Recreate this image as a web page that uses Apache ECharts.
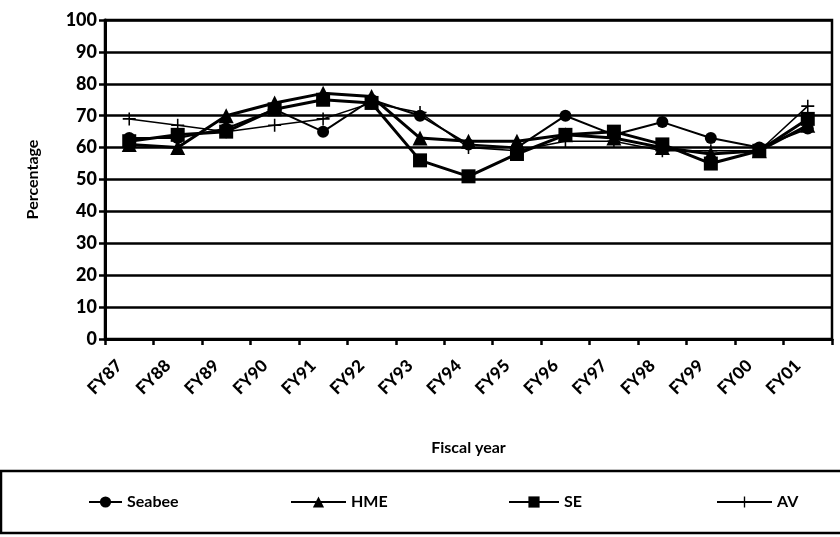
<!DOCTYPE html>
<html>
<head>
<meta charset="utf-8">
<script src="https://cdn.jsdelivr.net/npm/echarts@6/dist/echarts.min.js"></script>
<style>
html,body{margin:0;padding:0;background:#fff;}
#c{width:840px;height:537px;}
</style>
</head>
<body>
<div id="c"></div>
<script>
var categories = ['FY87','FY88','FY89','FY90','FY91','FY92','FY93','FY94','FY95','FY96','FY97','FY98','FY99','FY00','FY01'];
var seabee = [63, 63, 66, 72, 65, 75, 70, 61, 60, 70, 64, 68, 63, 60, 66];
var hme    = [61, 60, 70, 74, 77, 76, 63, 62, 62, 64, 63, 60, 58, 59, 67];
var se     = [62, 64, 65, 72, 75, 74, 56, 51, 58, 64, 65, 61, 55, 59, 69];
var av     = [69, 67, 65, 67, 69, 74, 71, 60, 59, 62, 62, 59, 59, 59, 73];

var FONT = 'Lato';
var plus = 'path://M4.4,0h1.2v10h-1.2z M0,4.4h10v1.2h-10z';

function legendFor(name, left, w) {
  return {
    data: [name], left: left, top: 494, itemWidth: w, itemHeight: 14, itemGap: 4, padding: 0,
    textStyle: {fontFamily: FONT, fontWeight: 'bold', fontSize: 16, color: '#000'},
    selectedMode: false
  };
}

var chart = echarts.init(document.getElementById('c'));
chart.setOption({
  animation: false,
  backgroundColor: '#fff',
  grid: {left: 105, right: 8, top: 20, bottom: 198, show: true, borderColor: '#000', borderWidth: 2.5},
  xAxis: {
    type: 'category', data: categories, boundaryGap: true,
    name: 'Fiscal year', nameLocation: 'middle', nameGap: 101,
    nameTextStyle: {fontFamily: FONT, fontWeight: 'bold', fontSize: 16, color: '#000'},
    axisLine: {lineStyle: {color: '#000', width: 3}},
    axisTick: {show: true, length: 6, lineStyle: {color: '#000', width: 2.5}},
    axisLabel: {rotate: 45, margin: 14, padding: [0, 14, 0, 0], fontFamily: FONT, fontWeight: 900, fontSize: 17, color: '#000'}
  },
  yAxis: {
    type: 'value', min: 0, max: 100, interval: 10,
    name: 'Percentage', nameLocation: 'middle', nameGap: 64, nameRotate: 90,
    nameTextStyle: {fontFamily: FONT, fontWeight: 'bold', fontSize: 16, color: '#000'},
    axisLine: {show: true, lineStyle: {color: '#000', width: 3}},
    axisTick: {show: true, length: 6, lineStyle: {color: '#000', width: 2.5}},
    axisLabel: {margin: 8, fontFamily: FONT, fontWeight: 900, fontSize: 18, color: '#000'},
    splitLine: {show: true, lineStyle: {color: '#000', width: 2.5}}
  },
  legend: [
    legendFor('Seabee', 88, 33),
    legendFor('HME', 290, 55),
    legendFor('SE', 508, 50),
    legendFor('AV', 716, 55)
  ],
  graphic: [{
    type: 'rect', shape: {x: 1, y: 471, width: 850, height: 62},
    style: {fill: 'none', stroke: '#000', lineWidth: 2.5}, silent: true
  }],
  series: [
    {name: 'Seabee', type: 'line', data: seabee, symbol: 'circle', symbolSize: 12,
     itemStyle: {color: '#000'}, lineStyle: {color: '#000', width: 2}},
    {name: 'HME', type: 'line', data: hme, symbol: 'triangle', symbolSize: 15,
     itemStyle: {color: '#000'}, lineStyle: {color: '#000', width: 3}},
    {name: 'SE', type: 'line', data: se, symbol: 'rect', symbolSize: 14,
     itemStyle: {color: '#000'}, lineStyle: {color: '#000', width: 3}},
    {name: 'AV', type: 'line', data: av, symbol: plus, symbolSize: 13,
     itemStyle: {color: '#000'}, lineStyle: {color: '#000', width: 1.5}}
  ]
});
</script>
</body>
</html>
